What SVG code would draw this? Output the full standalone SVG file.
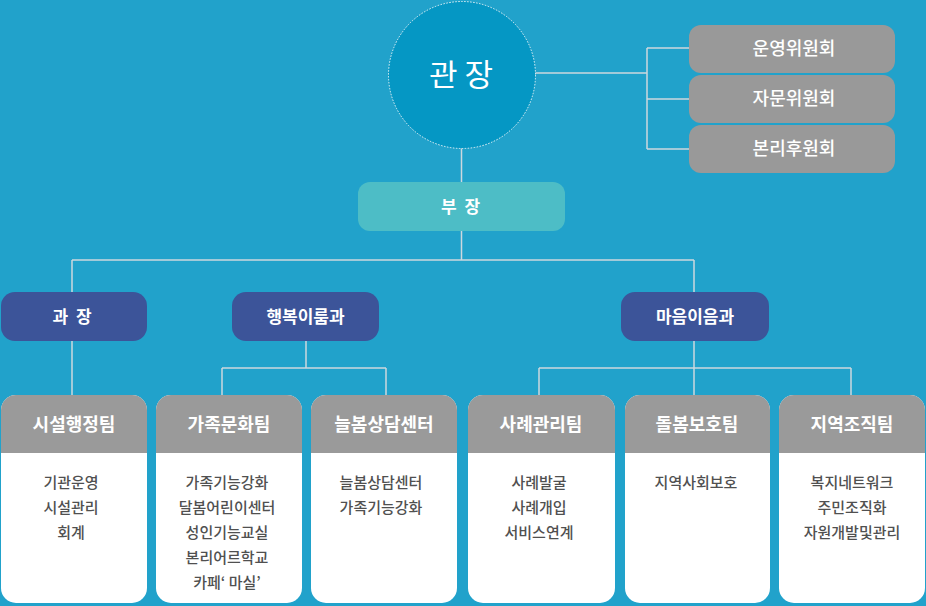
<svg xmlns="http://www.w3.org/2000/svg" width="926" height="606" viewBox="0 0 926 606">
<style>
text{font-family:"Noto Sans CJK KR","Noto Sans",sans-serif;text-anchor:middle}
.bg{fill:#21a2cb}
.conn{stroke:#cdd8de;stroke-width:1.5;fill:none}
.cm rect{fill:#999999}
.cm text{fill:#ffffff;font-size:18px;font-weight:500}
.dept rect{fill:#3c5499}
.dept text{fill:#ffffff;font-size:17px;font-weight:700}
.body{fill:#ffffff}
.head{fill:#9a9a9a}
.team .ht{fill:#ffffff;font-size:18px;font-weight:700}
.team .bt{fill:#505050;font-size:15px;font-weight:500}
</style>
<rect class="bg" x="0" y="0" width="926" height="606"/>
<g id="connectors">
<path class="conn" d="M461.5 148V182M461.5 231V260M72 260H694M72 260V292M694 260V292"/>
<path class="conn" d="M535 73H647M647 48V149M647 48H689M647 99H689M647 149H689"/>
<path class="conn" d="M72 341V395"/>
<path class="conn" d="M306 341V368M222 368H386M222 368V395M386 368V395"/>
<path class="conn" d="M694 341V395M539 368H851M539 368V395M851 368V395"/>
</g>
<g id="director">
<circle cx="462" cy="75" r="73.5" fill="#0597c4" stroke="#e8f4f8" stroke-width="1" stroke-dasharray="1.5 1.5"/>
<text x="461" y="86" fill="#ffffff" font-size="31">관 장</text>
</g>
<g id="committee1" class="cm"><rect x="689" y="25" width="206" height="48" rx="12"/><text x="794" y="55">운영위원회</text></g>
<g id="committee2" class="cm"><rect x="689" y="75" width="206" height="48" rx="12"/><text x="794" y="105">자문위원회</text></g>
<g id="committee3" class="cm"><rect x="689" y="125" width="206" height="48" rx="12"/><text x="794" y="155">본리후원회</text></g>
<g id="deputy"><rect x="358" y="182" width="207" height="49" rx="12" fill="#4dbdc6"/><text x="461.5" y="213" fill="#ffffff" font-size="17" font-weight="700" letter-spacing="2">부 장</text></g>
<g id="manager" class="dept"><rect x="1" y="292" width="146" height="49" rx="14"/><text x="73" y="323" letter-spacing="2">과 장</text></g>
<g id="dept-happy" class="dept"><rect x="232" y="292" width="147" height="49" rx="14"/><text x="305.5" y="323">행복이룸과</text></g>
<g id="dept-mind" class="dept"><rect x="621" y="292" width="148" height="49" rx="14"/><text x="695" y="323">마음이음과</text></g>

<g id="team1" class="team">
<rect class="body" x="1" y="395" width="146" height="208" rx="15"/>
<path class="head" d="M1 453V410A15 15 0 0 1 16 395H132A15 15 0 0 1 147 410V453Z"/>
<text class="ht" x="74" y="431">시설행정팀</text>
<text class="bt" x="71" y="488">기관운영</text>
<text class="bt" x="71" y="513">시설관리</text>
<text class="bt" x="71" y="538">회계</text>
</g>
<g id="team2" class="team">
<rect class="body" x="156" y="395" width="146" height="208" rx="15"/>
<path class="head" d="M156 453V410A15 15 0 0 1 171 395H287A15 15 0 0 1 302 410V453Z"/>
<text class="ht" x="229" y="431">가족문화팀</text>
<text class="bt" x="227" y="488">가족기능강화</text>
<text class="bt" x="227" y="513">달봄어린이센터</text>
<text class="bt" x="227" y="538">성인기능교실</text>
<text class="bt" x="227" y="563">본리어르학교</text>
<text class="bt" x="227" y="588">카페‘ 마실’</text>
</g>
<g id="team3" class="team">
<rect class="body" x="311" y="395" width="146" height="208" rx="15"/>
<path class="head" d="M311 453V410A15 15 0 0 1 326 395H442A15 15 0 0 1 457 410V453Z"/>
<text class="ht" x="384" y="431">늘봄상담센터</text>
<text class="bt" x="381" y="488">늘봄상담센터</text>
<text class="bt" x="381" y="513">가족기능강화</text>
</g>
<g id="team4" class="team">
<rect class="body" x="468" y="395" width="147" height="208" rx="15"/>
<path class="head" d="M468 453V410A15 15 0 0 1 483 395H600A15 15 0 0 1 615 410V453Z"/>
<text class="ht" x="541" y="431">사례관리팀</text>
<text class="bt" x="539" y="488">사례발굴</text>
<text class="bt" x="539" y="513">사례개입</text>
<text class="bt" x="539" y="538">서비스연계</text>
</g>
<g id="team5" class="team">
<rect class="body" x="625" y="395" width="145" height="208" rx="15"/>
<path class="head" d="M625 453V410A15 15 0 0 1 640 395H755A15 15 0 0 1 770 410V453Z"/>
<text class="ht" x="697" y="431">돌봄보호팀</text>
<text class="bt" x="696" y="488">지역사회보호</text>
</g>
<g id="team6" class="team">
<rect class="body" x="779" y="395" width="146" height="208" rx="15"/>
<path class="head" d="M779 453V410A15 15 0 0 1 794 395H910A15 15 0 0 1 925 410V453Z"/>
<text class="ht" x="852" y="431">지역조직팀</text>
<text class="bt" x="852" y="488">복지네트워크</text>
<text class="bt" x="852" y="513">주민조직화</text>
<text class="bt" x="852" y="538">자원개발및관리</text>
</g>
</svg>
